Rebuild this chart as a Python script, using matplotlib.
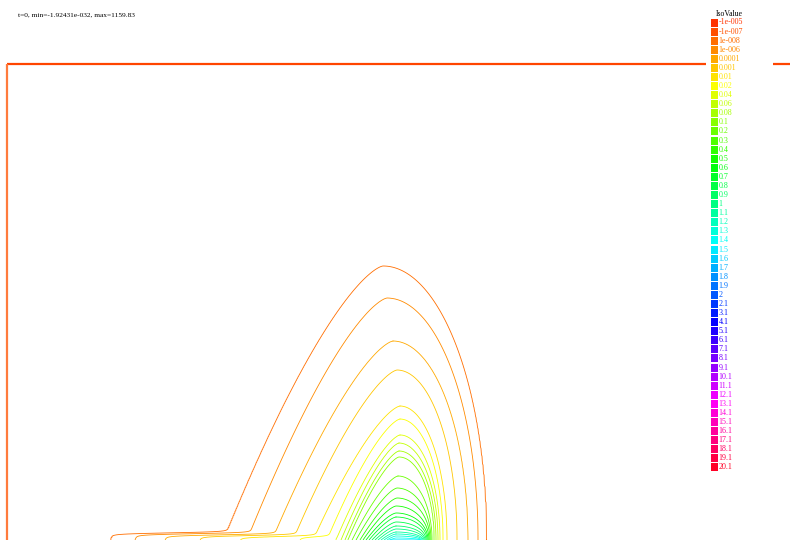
import colorsys
import numpy as np
import matplotlib
matplotlib.use("Agg")
import matplotlib.pyplot as plt
from matplotlib.patches import Rectangle

# Iso values shown in the legend
iso_labels = ["-1e-005", "-1e-007", "1e-008", "1e-006", "0.0001", "0.001",
              "0.01", "0.02", "0.04", "0.06", "0.08", "0.1",
              "0.2", "0.3", "0.4", "0.5", "0.6", "0.7", "0.8", "0.9",
              "1", "1.1", "1.2", "1.3", "1.4", "1.5", "1.6", "1.7", "1.8", "1.9",
              "2", "2.1", "3.1", "4.1", "5.1", "6.1", "7.1", "8.1", "9.1", "10.1",
              "11.1", "12.1", "13.1", "14.1", "15.1", "16.1", "17.1", "18.1",
              "19.1", "20.1"]
iso_values = [-1e-5, -1e-7, 1e-8, 1e-6, 1e-4, 1e-3,
              0.01, 0.02, 0.04, 0.06, 0.08, 0.1,
              0.2, 0.3, 0.4, 0.5, 0.6, 0.7, 0.8, 0.9,
              1.0, 1.1, 1.2, 1.3, 1.4, 1.5, 1.6, 1.7, 1.8, 1.9,
              2.0, 2.1, 3.1, 4.1, 5.1, 6.1, 7.1, 8.1, 9.1, 10.1,
              11.1, 12.1, 13.1, 14.1, 15.1, 16.1, 17.1, 18.1, 19.1, 20.1]

# Concentration plume: for each level, crest height above the lower edge,
# crest position, left/right foot positions and the left end of the wall tail
plume_level = [1e-8, 1e-6, 1e-4, 1e-3, 0.01, 0.02, 0.04, 0.06, 0.08, 0.1,
               0.2, 0.3, 0.4, 0.5, 0.6, 0.7, 0.8, 0.9, 1.0, 1.1, 1.2, 1.3, 1.4]
plume_height = [274, 242, 199, 170, 134, 121, 105, 97, 89, 83,
                64, 52, 42, 34, 27, 23, 18, 14, 11, 8, 6, 4, 2]
plume_crest_x = [383, 387, 393, 397, 400, 400, 400, 399, 399, 399,
                 398, 397, 397, 396, 396, 396, 396, 396, 396, 396, 396, 396, 396]
plume_left_x = [223, 247, 272, 293, 313, 327, 336, 341, 345, 348,
                352, 356, 360, 363, 366, 369, 372, 375, 378, 381, 384, 387, 390]
plume_right_x = [487, 478, 468, 457, 447, 443, 440, 438, 436, 434,
                 432, 431, 430, 429, 428, 427, 426, 425, 424, 423, 422, 421, 420]
plume_tail_x = [110, 135, 165, 200, 240, 300, 336, 341, 345, 348,
                352, 356, 360, 363, 366, 369, 372, 375, 378, 381, 384, 387, 390]

title_text = "t=0, min=-1.92431e-032, max=1159.83"

W, H = 790, 540
FRAME_LEFT = 7
FRAME_TOP = 476

serif = ["Liberation Serif", "DejaVu Serif"]


def level_color(i):
    h = (12.0 + 6.92 * i) / 360.0
    return colorsys.hsv_to_rgb(h % 1.0, 1.0, 1.0)


# ---- build the scalar field from the plume table -------------------------
order = np.argsort(plume_height)
hgt = np.asarray(plume_height, float)[order]
logc = np.log10(np.asarray(plume_level, float))[order]
cx = np.asarray(plume_crest_x, float)[order]
lx = np.asarray(plume_left_x, float)[order]
rx = np.asarray(plume_right_x, float)[order]
tx = np.asarray(plume_tail_x, float)[order]


def log_field(rho):
    out = np.interp(rho, hgt, logc)
    lo_slope = (logc[1] - logc[0]) / (hgt[1] - hgt[0])
    hi_slope = (logc[-1] - logc[-2]) / (hgt[-1] - hgt[-2])
    out = np.where(rho < hgt[0], logc[0] + lo_slope * (rho - hgt[0]), out)
    out = np.where(rho > hgt[-1], logc[-1] + hi_slope * (rho - hgt[-1]), out)
    return out


def inside(xg, yg, rho):
    c = np.interp(rho, hgt, cx)
    left = c - np.interp(rho, hgt, lx)
    right = np.interp(rho, hgt, rx) - c
    tail = c - np.interp(rho, hgt, tx)
    t = np.clip(yg / rho, 0.0, 1.0)
    r_ext = right * np.sqrt(1.0 - t ** 2)
    y_t = 0.026 * rho
    sig = 1.0 / (1.0 + np.exp(np.clip((yg - y_t) / 0.6, -50, 50)))
    l_ext = left * (1.0 - t) ** 0.7 + np.maximum(tail - left, 0.0) * sig
    dx = xg - c
    return (yg < rho) & (dx <= r_ext) & (-dx <= l_ext)


xs = np.arange(0.0, 791.0, 1.0)
ys = np.concatenate([np.arange(0.0, 30.0, 0.2), np.arange(30.0, 481.0, 1.0)])
XG, YG = np.meshgrid(xs, ys)

lo = np.full(XG.shape, 0.01)
hi = np.full(XG.shape, 600.0)
for _ in range(40):
    mid = 0.5 * (lo + hi)
    ins = inside(XG, YG, mid)
    hi = np.where(ins, mid, hi)
    lo = np.where(ins, lo, mid)
rho = 0.5 * (lo + hi)
field = 10.0 ** log_field(rho)

# ---- figure ---------------------------------------------------------------
fig = plt.figure(figsize=(W / 100, H / 100), dpi=100)
fig.patch.set_facecolor("white")
ax = fig.add_axes([0, 0, 1, 1])
ax.set_xlim(0, W)
ax.set_ylim(0, H)
ax.axis("off")

colors = [level_color(i) for i in range(len(iso_values))]
ax.contour(xs, ys, field, levels=iso_values, colors=colors,
           linewidths=0.6, negative_linestyles="solid", zorder=2)

# domain boundary
ax.plot([FRAME_LEFT, W + 5], [FRAME_TOP, FRAME_TOP], color="#ff4500",
        lw=1.6, solid_capstyle="butt", zorder=3)
ax.plot([FRAME_LEFT, FRAME_LEFT], [FRAME_TOP, -5], color="#ff7b3c",
        lw=1.6, solid_capstyle="butt", zorder=3)

# legend panel
ax.add_patch(Rectangle((706, H - 476), 67, 468, facecolor="white",
                       edgecolor="none", zorder=4))
ax.text(716, H - 14.5, "IsoValue", fontsize=5.6, family=serif,
        ha="left", va="center", color="black", zorder=5)
for i, lab in enumerate(iso_labels):
    yc = H - (22.5 + 9.08 * i)
    ax.add_patch(Rectangle((711, yc - 4), 6.5, 8, facecolor=colors[i],
                           edgecolor="none", zorder=5))
    ax.text(718.5, yc, lab, fontsize=5.8, family=serif, ha="left",
            va="center", color=colors[i], zorder=5)

ax.text(18, H - 15, title_text, fontsize=5.3, family=serif,
        ha="left", va="center", color="black", zorder=5)

fig.savefig("out.png", dpi=100, facecolor="white")
